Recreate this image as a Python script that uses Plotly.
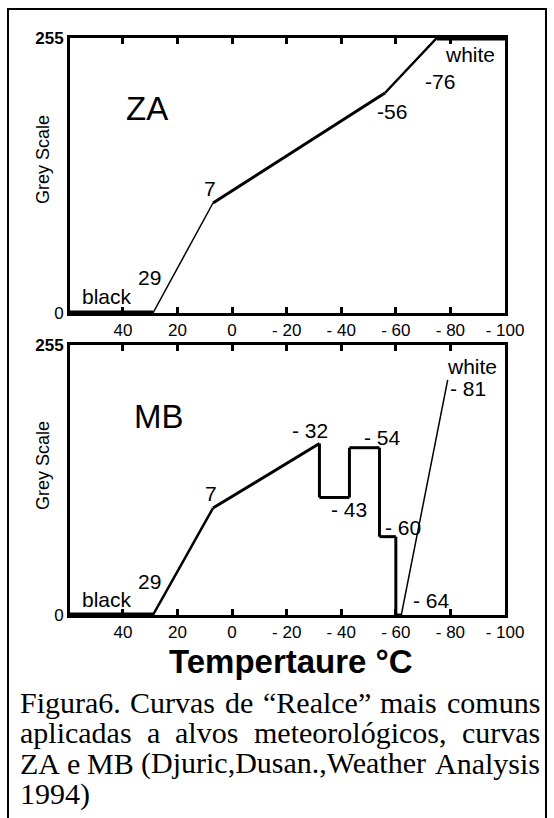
import plotly.graph_objects as go

W, H = 554, 818

# ---------------- data ----------------
temp_ticks = [40, 20, 0, -20, -40, -60, -80, -100]
temp_tick_text = ["40", "20", "0", "- 20", "- 40", "- 60", "- 80", "- 100"]
grey_ticks = [0, 255]
grey_tick_text = ["0", "<b>255</b>"]
temp_range = [59.4, -100]
grey_range = [0, 255]

# ZA enhancement curve (temperature °C -> grey level)
za_temp = [59.4, 29, 7, -56, -75, -100]
za_grey = [0, 0, 102, 204, 255, 255]

# MB enhancement curve
mb_temp = [59.4, 29, 7, -32, -32, -43, -43, -54, -54, -60, -60, -62, -79]
mb_grey = [0, 0, 101, 162, 111, 111, 158, 158, 74, 74, 0, 0, 222]

# ---------------- styles ----------------
za_seg_width = [5, 1.5, 3, 2.5, 5]
mb_seg_width = [5, 2.5, 3, 3, 3, 3, 3, 3, 3, 3, 3, 1.5]

SANS = "Liberation Sans, Arial, sans-serif"
SERIF = "Liberation Serif, Times New Roman, serif"


def px(x):
    return x / W


def py(y):
    return 1 - y / H


fig = go.Figure()


def add_curve(xs, ys, widths, xa, ya):
    for i, w in enumerate(widths):
        fig.add_trace(go.Scatter(
            x=xs[i:i + 2], y=ys[i:i + 2], mode="lines",
            line=dict(color="black", width=w),
            xaxis=xa, yaxis=ya, cliponaxis=False,
            showlegend=False, hoverinfo="skip"))


add_curve(za_temp, za_grey, za_seg_width, "x", "y")
add_curve(mb_temp, mb_grey, mb_seg_width, "x2", "y2")

xdom = [px(70), px(505)]
common_x = dict(
    range=temp_range, domain=xdom, tickvals=temp_ticks, ticktext=temp_tick_text,
    ticks="inside", ticklen=6, tickwidth=3, tickcolor="black",
    showline=True, linewidth=3, linecolor="black", mirror="ticks",
    showgrid=False, zeroline=False, automargin=False,
    tickfont=dict(family=SANS, size=17, color="black"),
)
common_y = dict(
    range=grey_range, tickvals=grey_ticks, ticktext=grey_tick_text,
    ticks="", showline=True, linewidth=3, linecolor="black", mirror=True,
    showgrid=False, zeroline=False, automargin=False,
    tickfont=dict(family=SANS, size=17, color="black"),
)

ann = []


def label(text, x, y, size=21, family=SANS, angle=0, xanchor="center", bold=False):
    if bold:
        text = "<b>" + text + "</b>"
    ann.append(dict(
        text=text, x=px(x), y=py(y), xref="paper", yref="paper",
        xanchor=xanchor, yanchor="middle", showarrow=False,
        textangle=angle, borderpad=0, borderwidth=0,
        font=dict(family=family, size=size, color="black")))


# Top panel labels
label("ZA", 147, 108, size=33)
label("black", 107, 296)
label("29", 149, 278)
label("7", 210, 188)
label("-56", 392, 111)
label("-76", 440, 82)
label("white", 470, 54)
label("Grey Scale", 43, 160, size=18, angle=-90)

# Bottom panel labels
label("MB", 159, 416, size=33)
label("black", 107, 599)
label("29", 149, 581)
label("7", 211, 494)
label("- 32", 310, 431)
label("- 43", 349, 509)
label("- 54", 382, 437)
label("- 60", 403, 527)
label("- 64", 431, 600)
label("- 81", 468, 388)
label("white", 472, 366)
label("Grey Scale", 43, 466, size=18, angle=-90)

# Axis title
label("Tempertaure °C", 291, 661, size=33, bold=True)

# Caption (justified per word, Times metrics)
TIMES = {
    " ": 250, "(": 333, ")": 333, ",": 250, ".": 250, "1": 500, "4": 500, "6": 500, "9": 500,
    "A": 722, "B": 667, "C": 667, "D": 722, "F": 556, "M": 889, "R": 667, "W": 944, "Z": 611,
    "a": 444, "c": 444, "d": 500, "e": 444, "g": 500, "h": 500, "i": 278, "j": 278, "l": 278,
    "m": 778, "n": 500, "o": 500, "p": 500, "r": 333, "s": 389, "t": 278, "u": 500, "v": 500,
    "y": 500, "ó": 500, "“": 444, "”": 444,
}
cap_fs = 30
cap_left, cap_right = 20, 540
caption_lines = [
    ("Figura6. Curvas de “Realce” mais comuns", True, 713),
    ("aplicadas a alvos meteorológicos, curvas", True, 743),
    ("ZA e MB (Djuric,Dusan.,Weather Analysis", True, 773.5),
    ("1994)", False, 804),
]


def wwidth(word):
    return sum(TIMES.get(c, 500) for c in word) / 1000 * cap_fs


for text, justify, base in caption_lines:
    yc = base - 0.34 * cap_fs
    words = text.split(" ")
    if not justify:
        label(text, cap_left, yc, size=cap_fs, family=SERIF, xanchor="left")
        continue
    widths = [wwidth(w) for w in words]
    gap = (cap_right - cap_left - sum(widths)) / (len(words) - 1)
    xcur = cap_left
    for w, wd in zip(words, widths):
        label(w, xcur, yc, size=cap_fs, family=SERIF, xanchor="left")
        xcur += wd + gap

fig.update_layout(
    width=W, height=H, margin=dict(l=0, r=0, t=0, b=0),
    paper_bgcolor="white", plot_bgcolor="white",
    xaxis=dict(common_x, anchor="y"),
    yaxis=dict(common_y, domain=[py(313), py(38)], anchor="x"),
    xaxis2=dict(common_x, anchor="y2"),
    yaxis2=dict(common_y, domain=[py(615), py(345)], anchor="x2"),
    annotations=ann,
    shapes=[dict(type="rect", xref="paper", yref="paper",
                 x0=px(8), x1=px(546), y0=py(825), y1=py(9),
                 line=dict(color="black", width=2), layer="below")],
    showlegend=False,
)

fig.write_html("out.html")
